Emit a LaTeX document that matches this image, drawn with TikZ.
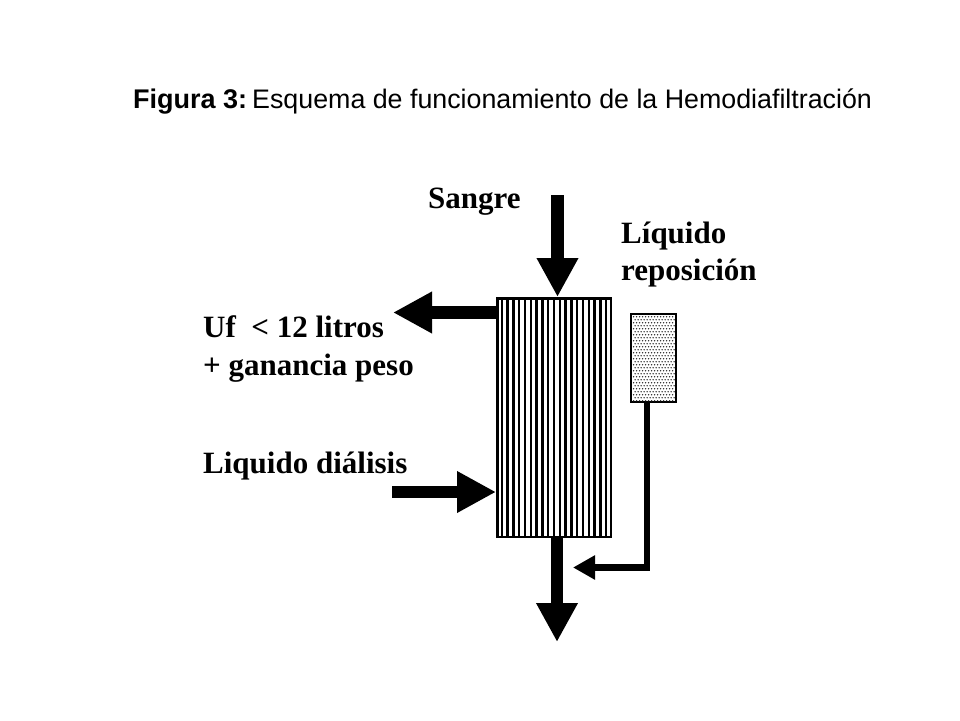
\documentclass[tikz,border=0pt]{standalone}
\usepackage{fontspec}
\setmainfont{Liberation Serif}
\newfontfamily\titlefont{Liberation Sans}
\usetikzlibrary{arrows.meta}
\begin{document}
\begin{tikzpicture}[x=1pt,y=-1pt,
  lbl/.style={anchor=base west, inner sep=0pt, font=\bfseries\fontsize{31}{37}\selectfont},
  bigarrow/.style={line width=12.5pt, line join=miter, -{Triangle[length=39pt,width=39pt]}},
  thinarrow/.style={line width=6.5pt, line join=miter, -{Triangle[length=22pt,width=23pt]}},
  stripe/.style={line width=2.5pt},
  dot/.style={fill=black!85}
]
\useasboundingbox (0,0) rectangle (960,720);
\fill[white] (0,0) rectangle (960,720);

% title
\node[anchor=base west, inner sep=0pt, font=\titlefont\fontsize{26.8}{30}\selectfont] (title) at (133,108)
  {{\fontsize{27}{30}\selectfont\textbf{Figura~3:}}\hspace{5pt}Esquema de funcionamiento de la Hemodiafiltración};

% filter
\node[draw, line width=2.5pt, minimum width=113.5pt, minimum height=238.5pt, inner sep=0pt] (filter) at (554,417.5) {};
\foreach \i in {1,...,19} {
  \draw[stripe] (496+\i*5.8,298.5) -- (496+\i*5.8,536.5);
}

% replacement bag
\node[draw, line width=2pt, minimum width=44.7pt, minimum height=88pt, inner sep=0pt] (bag) at (653.3,358.3) {};
\foreach \x in {0,...,13} {
  \foreach \y in {0,...,28} {
    \pgfmathsetmacro{\xo}{mod(\y,2)*1.5}
    \fill[dot] (633.6+\x*3+\xo,316.8+\y*3) circle (0.75);
  }
}

% coordinates
\coordinate (sTop) at (557.5,195);
\coordinate (ufTip) at (393,312.5);
\coordinate (dStart) at (392,492);
\coordinate (outTip) at (557,642);
\coordinate (rTip) at (573,567.5);

% arrows
\draw[bigarrow] (sTop) -- (sTop |- filter.north);
\draw[bigarrow] (ufTip -| filter.west) -- (ufTip);
\draw[bigarrow] (dStart) -- (dStart -| filter.west);
\draw[bigarrow] (outTip |- filter.south) -- (outTip);
\draw[thinarrow] ([xshift=-6.5pt]bag.south) |- (rTip);

% labels
\node[lbl] (sangre) at (428,208) {Sangre};
\node[lbl] (liq1) at (621,243) {Líquido};
\node[lbl] (liq2) at (621,280) {reposición};
\node[lbl] (uf1) at (203,337) {Uf\ \ < 12 litros};
\node[lbl] (uf2) at (203,375) {+ ganancia peso};
\node[lbl] (dial) at (203,473) {Liquido diálisis};
\end{tikzpicture}
\end{document}
